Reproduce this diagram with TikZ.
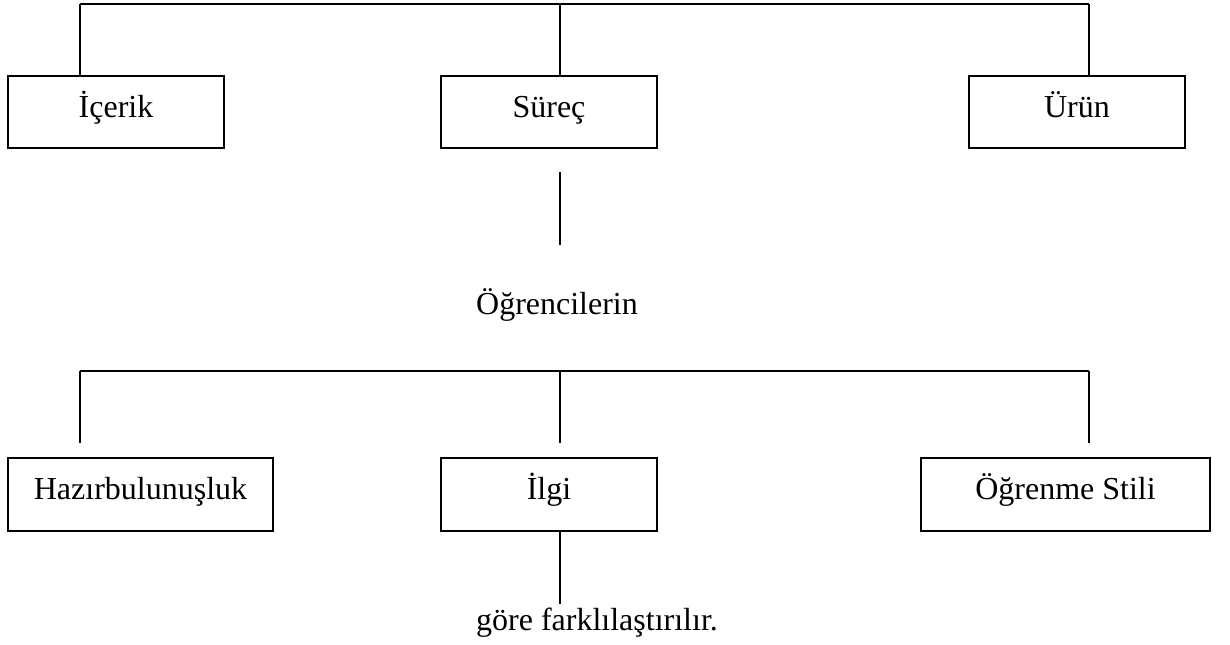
\documentclass[tikz,border=0pt]{standalone}
\usepackage{fontspec}
\setmainfont{Liberation Serif}
\tikzset{
	kutu/.style={draw,line width=1pt,inner sep=0,outer sep=0,minimum height=36pt,text height=9pt,text depth=4pt,font=\fontsize{16}{19}\selectfont},
	yazi/.style={inner sep=0,anchor=base,font=\fontsize{16}{19}\selectfont},
}
\begin{document}
\begin{tikzpicture}[x=0.5pt,y=-0.5pt,line width=1pt]
	\useasboundingbox (0,0) rectangle (1230,644);
	\node[kutu,minimum width=108pt] (icerik) at (116,112) {İçerik};
	\node[kutu,minimum width=108pt] (surec) at (549,112) {Süreç};
	\node[kutu,minimum width=108pt] (urun) at (1077,112) {Ürün};
	\coordinate (t1) at (80,4);
	\coordinate (t2) at (560,4);
	\coordinate (t3) at (1089,4);
	\draw (t1) -- (t3);
	\draw (t1) -- (t1 |- icerik.north);
	\draw (t2) -- (t2 |- surec.north);
	\draw (t3) -- (t3 |- urun.north);
	\coordinate (s1) at (560,172);
	\coordinate (s2) at (560,245);
	\draw (s1) -- (s2);
	\node[yazi] (ogr) at (557,314) {Öğrencilerin};
	\node[kutu,minimum width=132.5pt,minimum height=36.5pt] (hazir) at (140.5,494.5) {Hazırbulunuşluk};
	\node[kutu,minimum width=108pt,minimum height=36.5pt] (ilgi) at (549,494.5) {İlgi};
	\node[kutu,minimum width=144.5pt,minimum height=36.5pt] (stil) at (1065.5,494.5) {Öğrenme Stili};
	\coordinate (b1) at (80,371);
	\coordinate (b2) at (560,371);
	\coordinate (b3) at (1089,371);
	\coordinate (c1) at (80,443);
	\coordinate (c2) at (560,443);
	\coordinate (c3) at (1089,443);
	\draw (b1) -- (b3);
	\draw (b1) -- (c1);
	\draw (b2) -- (c2);
	\draw (b3) -- (c3);
	\coordinate (g1) at (560,604);
	\draw (g1 |- ilgi.south) -- (g1);
	\node[yazi] (gore) at (597,630) {göre farklılaştırılır.};
\end{tikzpicture}
\end{document}
